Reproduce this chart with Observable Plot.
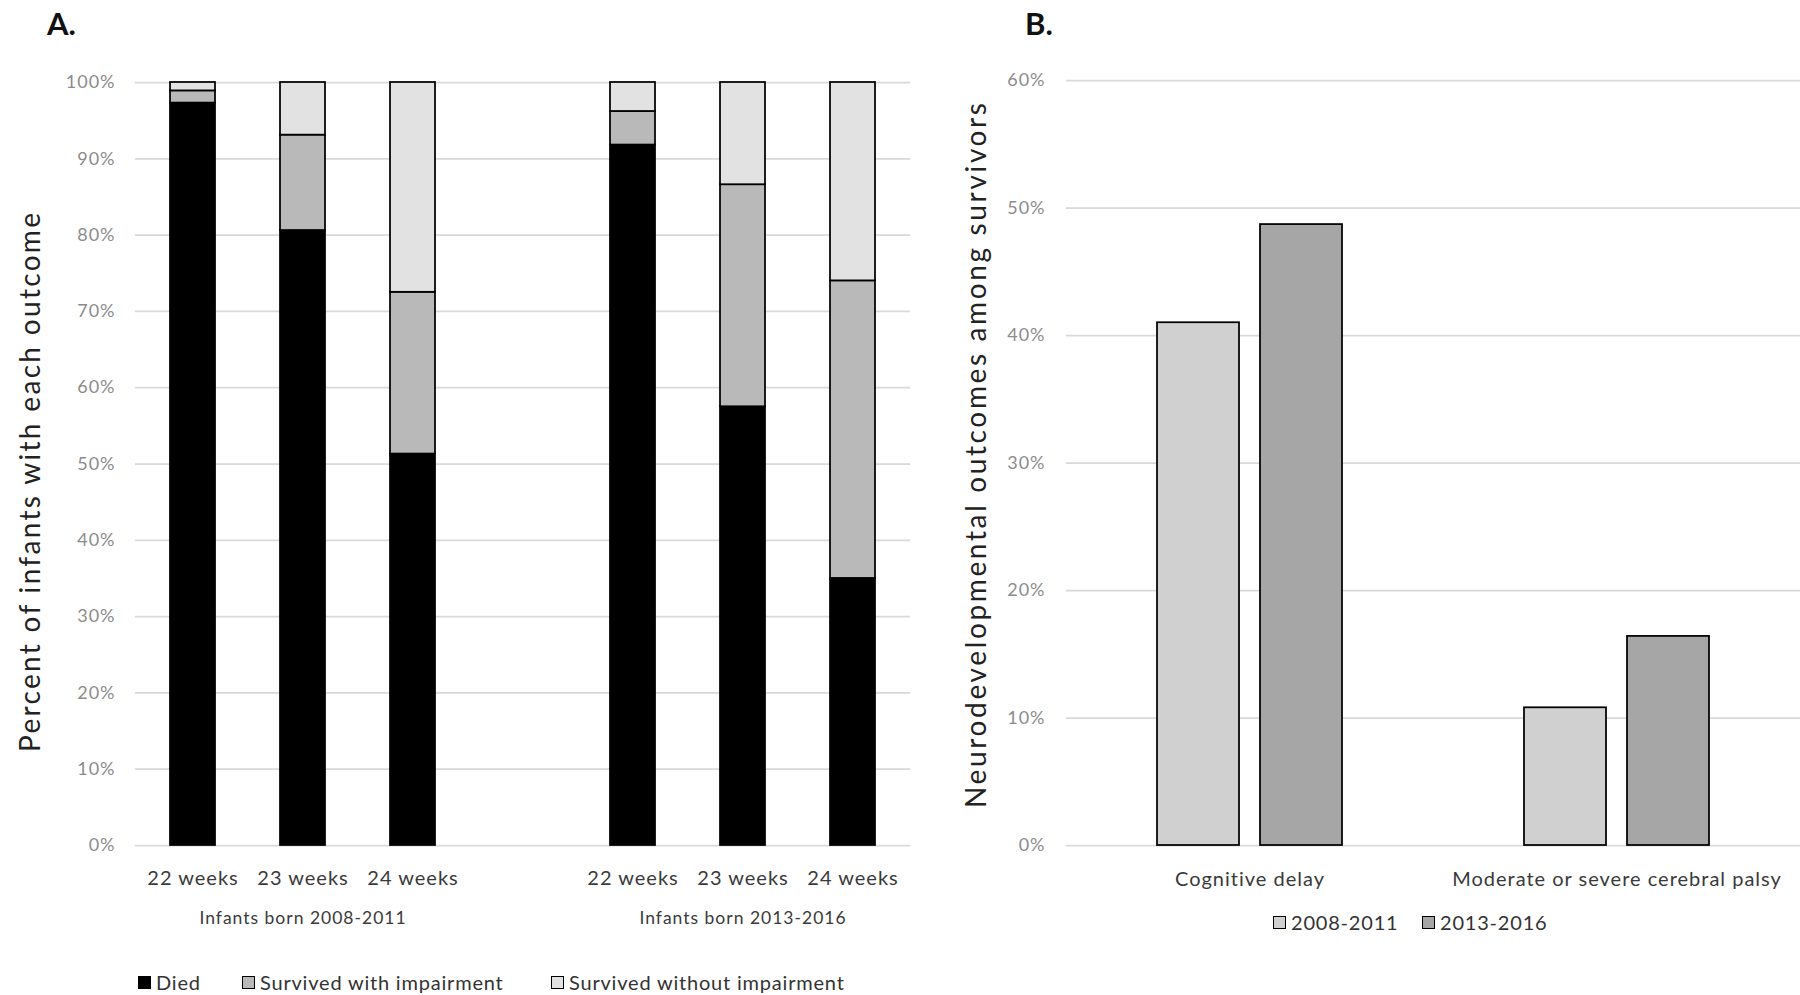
<!DOCTYPE html>
<html>
<head>
<meta charset="utf-8">
<script src="https://cdn.jsdelivr.net/npm/d3@7"></script>
<script src="https://cdn.jsdelivr.net/npm/@observablehq/plot@0.6"></script>
<style>
  html, body { margin: 0; padding: 0; background: #fff; }
  #wrap { position: relative; width: 1800px; height: 995px; font-family: Lato, "Open Sans", sans-serif; overflow: hidden; }
  #wrap svg text { letter-spacing: 1px; }
  .panel { position: absolute; top: 0; }
  .tag { position: absolute; top: 6px; font: bold 31px/34px Lato, sans-serif; color: #111; }
  .legend { position: absolute; display: flex; align-items: center; font-size: 20px; line-height: 20px; color: #333; letter-spacing: 0.8px; }
  .sw { width: 11px; height: 11px; border: 1.5px solid #000; margin-right: 5px; }
</style>
</head>
<body>
<div id="wrap">
  <div class="tag" style="left:47px">A.</div>
  <div class="tag" style="left:1025px">B.</div>
</div>
<script>
// ---------- Panel A data ----------
const weeks = ["22 weeks", "23 weeks", "24 weeks"];
const cohorts = ["2008-2011", "2013-2016"];
const cohortLabels = ["Infants born 2008-2011", "Infants born 2013-2016"];
const outcomes = ["Died", "Survived with impairment", "Survived without impairment"];
const outcomeColors = ["#000000", "#b9b9b9", "#e2e2e2"];
const died       = [97.3, 80.6, 51.3, 91.8, 57.5, 35.0];
const impaired   = [1.6, 12.5, 21.2, 4.4, 29.1, 39.0];
const unimpaired = [1.1, 6.9, 27.5, 3.8, 13.4, 26.0];
const ticksA = [0, 10, 20, 30, 40, 50, 60, 70, 80, 90, 100];
const titleA = "Percent of infants with each outcome";

// ---------- Panel B data ----------
const categoriesB = ["Cognitive delay", "Moderate or severe cerebral palsy"];
const periods = ["2008-2011", "2013-2016"];
const periodColors = ["#d0d0d0", "#a6a6a6"];
const values2008 = [41.0, 10.8];
const values2013 = [48.7, 16.4];
const ticksB = [0, 10, 20, 30, 40, 50, 60];
const titleB = "Neurodevelopmental outcomes among survivors";

// ---------- build tables ----------
const keysA = [];
cohorts.forEach((c, ci) => {
  weeks.forEach(w => keysA.push(c + "|" + w));
  if (ci === 0) keysA.push("gap");
});
const tableA = [];
for (let i = 0; i < 6; i++) {
  const key = cohorts[Math.floor(i / 3)] + "|" + weeks[i % 3];
  tableA.push({key, outcome: outcomes[0], value: died[i]});
  tableA.push({key, outcome: outcomes[1], value: impaired[i]});
  tableA.push({key, outcome: outcomes[2], value: unimpaired[i]});
}
const groupLabels = cohorts.map((c, i) => ({key: c + "|" + weeks[1], label: cohortLabels[i]}));

const tableB = [];
categoriesB.forEach((cat, i) => {
  tableB.push({category: cat, period: periods[0], value: values2008[i]});
  tableB.push({category: cat, period: periods[1], value: values2013[i]});
});

const wrap = document.getElementById("wrap");

// ---------- Panel A ----------
const svgA = Plot.plot({
  width: 930, height: 945,
  marginLeft: 135, marginRight: 20, marginTop: 82, marginBottom: 100,
  style: {fontFamily: "Lato, 'Open Sans', sans-serif", background: "transparent", overflow: "visible"},
  x: {domain: keysA, paddingInner: 0.595, paddingOuter: 0.299, label: null},
  y: {domain: [0, 100], label: null},
  color: {domain: outcomes, range: outcomeColors},
  marks: [
    Plot.ruleY(ticksA, {stroke: "#d9d9d9", strokeWidth: 1.75}),
    Plot.barY(tableA, {x: "key", y: "value", fill: "outcome", stroke: "#000", strokeWidth: 1.75}),
    Plot.axisY({ticks: ticksA, tickSize: 0, tickPadding: 20, tickFormat: d => d + "%", fontSize: 18, color: "#8c8c8c", label: null}),
    Plot.axisX({tickSize: 0, tickPadding: 25, fontSize: 20, color: "#3a3a3a", label: null,
      tickFormat: k => k === "gap" ? "" : k.split("|")[1]}),
    Plot.text(groupLabels, {x: "key", text: "label", frameAnchor: "bottom", dy: 78, fontSize: 17.5, fill: "#3a3a3a"}),
    Plot.text([titleA], {text: d => d, frameAnchor: "left", textAnchor: "middle", rotate: -90, dx: -104, dy: 18, fontSize: 28, fill: "#222"})
  ]
});
svgA.classList.add("panel");
svgA.style.left = "0px";
wrap.appendChild(svgA);
d3.select(svgA).selectAll("text").filter(function() { return this.textContent === titleA; })
  .attr("textLength", 540).attr("lengthAdjust", "spacing");

// ---------- Panel B ----------
const svgB = Plot.plot({
  width: 870, height: 900,
  marginLeft: 135, marginRight: 0, marginTop: 80, marginBottom: 55,
  style: {fontFamily: "Lato, 'Open Sans', sans-serif", background: "transparent", overflow: "visible"},
  fx: {domain: categoriesB, padding: 0, label: null},
  x: {domain: periods, paddingInner: 0.2, paddingOuter: 0.867, axis: null},
  y: {domain: [0, 60], label: null},
  color: {domain: periods, range: periodColors},
  marks: [
    Plot.ruleY(ticksB, {stroke: "#d9d9d9", strokeWidth: 1.75}),
    Plot.barY(tableB, {fx: "category", x: "period", y: "value", fill: "period", stroke: "#000", strokeWidth: 1.75}),
    Plot.axisY({ticks: ticksB, tickSize: 0, tickPadding: 21, tickFormat: d => d + "%", fontSize: 18, color: "#8c8c8c", label: null}),
    Plot.axisFx({anchor: "bottom", tickSize: 0, tickPadding: 26, fontSize: 20, color: "#3a3a3a", label: null}),
    Plot.text([{c: categoriesB[0], t: titleB}], {fx: "c", text: "t", frameAnchor: "left", textAnchor: "middle", rotate: -90, dx: -89, dy: -8, fontSize: 28, fill: "#222"})
  ]
});
svgB.classList.add("panel");
svgB.style.left = "930px";
wrap.appendChild(svgB);
d3.select(svgB).selectAll("text").filter(function() { return this.textContent === titleB; })
  .attr("textLength", 706).attr("lengthAdjust", "spacing");

// ---------- Legends ----------
function legend(items, colors, lefts, top) {
  items.forEach((name, i) => {
    const it = document.createElement("div");
    it.className = "legend";
    it.style.left = lefts[i] + "px";
    it.style.top = top + "px";
    it.innerHTML = `<span class="sw" style="background:${colors[i]}"></span><span>${name}</span>`;
    wrap.appendChild(it);
  });
}
legend(outcomes, outcomeColors, [138, 242, 551], 972);
legend(periods, periodColors, [1273, 1422], 912);
</script>
</body>
</html>
